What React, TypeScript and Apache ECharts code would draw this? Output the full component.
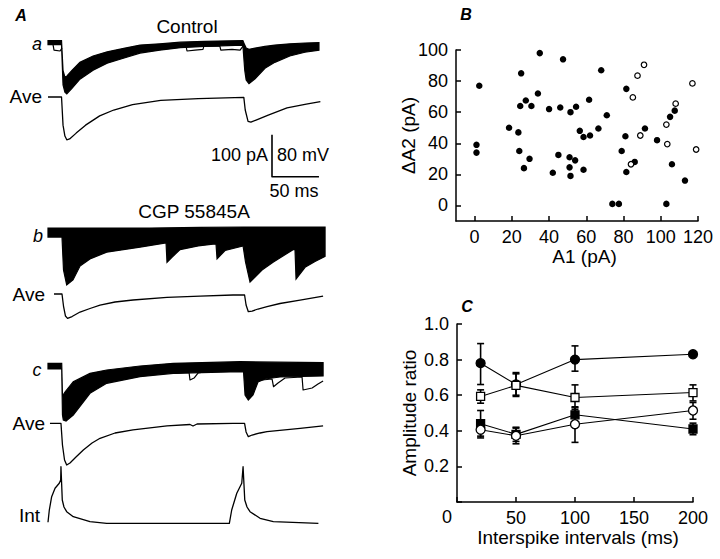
import React, { useEffect, useRef } from "react";
import * as echarts from "echarts";

const FONT = '"Liberation Sans", Arial, Helvetica, sans-serif';

// ---------- Panel A: traces, [time (ms), current (pA) relative to baseline] ----------
const traceAUpper = [[0,4],[14.4,4],[16,-67],[18,-83],[20,-81],[25.5,-67],[34,-48],[48,-33],[63,-23],[82,-14],[98,-7],[119,-4],[141,0],[167,2],[207.5,4],[209.5,-7],[211,-14],[214,-17],[220.5,-14],[231,-10],[241.5,-7],[257.5,-4],[273.5,-2],[288.5,-1]];
const traceALower = [[0,-6],[14.4,-6],[16,-102],[18,-119],[20,-123],[25.5,-110],[34,-88],[48,-67],[63,-50],[82,-37],[98,-26],[119,-19],[141,-13],[167,-10],[207.5,-7],[209.5,-67],[211,-90],[214,-99],[220.5,-87],[231,-62],[241.5,-48],[257.5,-33],[273.5,-24],[288.5,-19]];
const traceAEvents = [
  [[5.3,-5],[6.4,-19],[12.8,-21],[14.9,-14]],
  [[140.6,-9.5],[147,-9.5],[148,-21],[156.5,-19],[165,-17],[166,-9.5],[183,-9.5],[184,-19],[196,-17],[204.5,-19],[207.7,-9.5]],
];
const aveA = [[0,0],[14.4,0],[16,-67],[18,-93],[20,-102],[23,-100],[30,-86],[40,-67],[55,-45],[70,-31],[90,-18],[120,-8],[160,-4],[208.5,-1],[210,-31],[213,-58],[216,-60],[221.5,-55],[234.5,-43],[254.5,-26],[275,-17],[290,-11]];

const traceBUpper = [[0,9.5],[108.6,9.5],[162,11],[208.7,12],[295,12]];
const traceBLower = [[0,-12],[14.9,-12],[16.5,-90.5],[19.9,-126],[26.6,-114],[34.1,-81],[44.7,-64],[62.5,-48],[98,-36],[125.7,-26],[126.7,-72],[132,-60],[140.6,-42],[160,-33],[175.7,-29],[178.9,-29],[180,-64],[188.5,-44],[207.7,-33],[210.3,-71.4],[215.1,-119],[227.9,-90.5],[239.6,-72],[260.9,-42],[263,-42],[264.1,-112],[273.7,-84],[284.3,-70],[295,-58]];
const aveB = [[6.4,0],[14.9,0],[16.5,-28.6],[18.6,-52.4],[20.8,-57.9],[25.6,-53.6],[34.1,-42.9],[44.7,-34.5],[55.4,-26.2],[71.4,-19],[90.5,-14.3],[126.7,-7.9],[161.9,-4.8],[197,-2.4],[209.3,-2.4],[210.9,-26.2],[213.3,-42.1],[217.3,-40.5],[223.6,-35.7],[233.2,-30.2],[247,-22.6],[268.4,-14.3],[292.9,-4.8]];

const traceCUpper = [[0,6.4],[14.6,6.4],[15.4,-71.4],[18.1,-61.9],[26.9,-37.4],[44.7,-17.4],[62.5,-9.5],[98,0],[133.4,6.4],[204.5,10.2],[292.9,7.9]];
const traceCLower = [[0,-7.1],[14.6,-7.1],[15.4,-116.7],[16.3,-128.6],[19.2,-131],[26.9,-116.7],[44.7,-65],[62.5,-41.2],[98,-25.5],[133.4,-17.4],[204.5,-13.6],[208.2,-14.3],[209.8,-69],[213.3,-81],[218.3,-69],[223.6,-38.1],[231.1,-31],[247,-26.2],[292.9,-23.8]];
const traceCEvents = [
  [[133.1,-17.4],[150.2,-15.5],[151.2,-33.3],[155.5,-28.6],[159.7,-16.7],[167.2,-14.3]],
  [[227.9,-33.3],[238.6,-31],[240.1,-49.3],[244.9,-40.5],[252.4,-28.6],[270.5,-26.2],[271.6,-57.1],[281.2,-52.4],[287.5,-42.9],[292.9,-35.7]],
];
const aveC = [[2.1,0],[13.8,0],[15.4,-51.7],[17.6,-87.4],[19.9,-99.3],[23.4,-94.5],[29.8,-80.2],[37.6,-63.6],[46.9,-46.9],[55.4,-35.7],[71.4,-23.1],[90.5,-15.8],[126.7,-6.4],[151.2,-2.9],[154.4,-6.4],[158.7,-1.7],[197,0],[209.3,0],[210.9,-20.7],[213.3,-31.9],[217.3,-27.9],[225.8,-23.1],[233.2,-20],[268.4,-11.9],[292.9,-6.4]];

// intracellular voltage, [time (ms), mV]
const intTrace = [[0,2],[1.4,25.3],[3.9,50.7],[7.5,66.7],[12,76.2],[13.5,82.5],[13.8,107.8],[14.4,107.8],[15.2,44.4],[17,31],[19.9,22.1],[26.9,12.6],[44.7,3],[62.5,0],[193.1,0],[195.6,25.3],[201,57.1],[206.3,76.2],[207.7,107.8],[208.2,107.8],[209.5,44.4],[211.9,31],[215.1,22.1],[225.8,9.5],[239.9,3],[287.9,0]];

const SCALE_PA = 100;
const SCALE_MS = 50;
const PA_PER_MV = 100 / 80; // scale bar: 100 pA | 80 mV

// ---------- Panel B ----------
const filledA1 = [2.5,1,1,18.5,23.5,24,24.5,25,27.5,26.5,30.5,29.5,34,35,40,42,45,46,47.5,51,51,51.5,51.5,54,54.5,56.5,58.5,58.5,61.5,62,66.5,68,71,74,77.5,79,81,81.5,81.5,86,91.5,98,103,105,106,107.5,113];
const filledDA2 = [77,39,34,50,47,35,64,85,67.5,24,64,30,72,98,62,21,32.5,63,94,31,24.5,19,60,29,63.5,48,44,23,68,45,49.5,87,58,1,1,35,44.5,75,21.5,28,49.5,42,1,57,26.5,61,16];
const openA1 = [91,87.5,85,84,89,103,103.5,108,117,119];
const openDA2 = [90.5,83.5,69.5,26.5,45,52,39.5,65.5,78.5,36];
const bTicksX = [0,20,40,60,80,100,120];
const bTicksY = [0,20,40,60,80,100];

// ---------- Panel C ----------
const intervals = [20,50,100,200];
const filledCircle = [0.78,0.66,0.80,0.83];
const filledCircleLo = [0.66,0.60,0.735,0.82];
const filledCircleHi = [0.89,0.72,0.877,0.84];
const openSquare = [0.593,0.655,0.587,0.615];
const openSquareLo = [0.555,0.593,0.52,0.568];
const openSquareHi = [0.63,0.727,0.658,0.658];
const filledSquare = [0.44,0.38,0.49,0.41];
const filledSquareLo = [0.37,0.34,0.45,0.378];
const filledSquareHi = [0.514,0.42,0.535,0.443];
const openCircle = [0.406,0.372,0.437,0.514];
const openCircleLo = [0.36,0.327,0.335,0.465];
const openCircleHi = [0.44,0.415,0.53,0.559];

// layout: baseline offsets of traces on panel A's hidden axis (pA units)
const OFF = { a: 1171, aveA: 1040.5, b: 719, aveB: 571.4, c: 400, aveC: 263.6, int: 25.5 };
const BAR = { t: 238.5, v: 850.7 };

export default function App() {
  const ref = useRef<HTMLDivElement>(null);
  useEffect(() => {
    document.body.style.margin = "0";
    const chart = echarts.init(ref.current!, undefined, { renderer: "svg" });

    const lineA = (d: number[][], off: number, k = 1, w = 1.3): any => ({
      type: "line", xAxisIndex: 0, yAxisIndex: 0, silent: true, symbol: "none", showSymbol: false,
      data: d.map((p) => [p[0], off + p[1] * k]),
      lineStyle: { color: "#000", width: w, join: "round" }, z: 3,
    });
    const band = (up: number[][], lo: number[][], off: number): any => ({
      type: "custom", coordinateSystem: "cartesian2d", xAxisIndex: 0, yAxisIndex: 0, silent: true,
      data: [[up[0][0], off]],
      renderItem: (_p: any, api: any) => {
        const pts = up.map((d) => api.coord([d[0], off + d[1]]))
          .concat(lo.slice().reverse().map((d) => api.coord([d[0], off + d[1]])));
        return { type: "polygon", shape: { points: pts }, style: { fill: "#000", stroke: "#000", lineWidth: 1.2 } };
      }, z: 2,
    });
    const errBars = (v: number[], lo: number[], hi: number[]): any => ({
      type: "custom", coordinateSystem: "cartesian2d", xAxisIndex: 2, yAxisIndex: 2, silent: true,
      data: intervals.map((x, i) => [x, lo[i], hi[i], v[i]]),
      encode: { x: 0, y: [1, 2] },
      renderItem: (_p: any, api: any) => {
        const x = api.value(0);
        const a = api.coord([x, api.value(1)]);
        const b = api.coord([x, api.value(2)]);
        const w = 3.5;
        const st = { stroke: "#000", lineWidth: 1.6 };
        return { type: "group", children: [
          { type: "line", shape: { x1: a[0], y1: a[1], x2: b[0], y2: b[1] }, style: st },
          { type: "line", shape: { x1: a[0] - w, y1: a[1], x2: a[0] + w, y2: a[1] }, style: st },
          { type: "line", shape: { x1: b[0] - w, y1: b[1], x2: b[0] + w, y2: b[1] }, style: st },
        ] };
      }, z: 1,
    });
    const lineC = (v: number[], symbol: string, size: number, filled: boolean): any => ({
      type: "line", xAxisIndex: 2, yAxisIndex: 2, silent: true, symbol, symbolSize: size, showSymbol: true,
      data: intervals.map((x, i) => [x, v[i]]),
      lineStyle: { color: "#000", width: 1.1 },
      itemStyle: { color: filled ? "#000" : "#fff", borderColor: "#000", borderWidth: 1.3, opacity: 1 }, z: 3,
    });

    const axisCommon = (): any => ({
      axisLine: { show: true, onZero: false, lineStyle: { color: "#000", width: 1.5 } },
      splitLine: { show: false },
    });
    const tick = (vals?: number[]): any => ({ show: true, inside: true, length: 5, lineStyle: { color: "#000", width: 1.5 }, ...(vals ? { customValues: vals } : {}) });
    const label = (extra: any = {}): any => ({ color: "#000", fontSize: 18, fontFamily: FONT, ...extra });

    const txt = (text: string, x: number, y: number, o: any = {}): any => ({
      type: "text", x, y, silent: true,
      style: { text, fill: "#000", fontSize: 19, fontFamily: FONT, align: "center", verticalAlign: "middle", ...o },
    });

    const option: any = {
      animation: false,
      backgroundColor: "#fff",
      grid: [
        { left: 48, top: 30, width: 278, height: 504 },
        { left: 456, top: 50, width: 242, height: 171 },
        { left: 457, top: 324, width: 236, height: 178 },
      ],
      xAxis: [
        { gridIndex: 0, type: "value", min: 0, max: 296, show: false },
        { gridIndex: 1, type: "value", min: -10, max: 120, ...axisCommon(), axisTick: tick(bTicksX),
          axisLabel: label({ customValues: bTicksX, margin: 7 }),
          name: "A1 (pA)", nameLocation: "middle", nameGap: 26, nameMoveOverlap: false,
          nameTextStyle: { color: "#000", fontSize: 19, fontFamily: FONT, padding: [0, 0, 0, 15] } },
        { gridIndex: 2, type: "value", min: 0, max: 200, interval: 50, ...axisCommon(), axisTick: tick(),
          axisLabel: label({ margin: 7, formatter: (v: number) => (v === 0 ? "" : String(v)) }),
          name: "Interspike intervals (ms)", nameLocation: "middle", nameGap: 26, nameMoveOverlap: false,
          nameTextStyle: { color: "#000", fontSize: 19, fontFamily: FONT, padding: [0, 0, 0, 6] } },
      ],
      yAxis: [
        { gridIndex: 0, type: "value", min: 0, max: 1200, show: false },
        { gridIndex: 1, type: "value", min: -10, max: 100, ...axisCommon(), axisTick: tick(bTicksY),
          axisLabel: label({ customValues: bTicksY, margin: 8 }),
          name: "ΔA2 (pA)", nameLocation: "middle", nameRotate: 90, nameGap: 38, nameMoveOverlap: false,
          nameTextStyle: { color: "#000", fontSize: 19, fontFamily: FONT } },
        { gridIndex: 2, type: "value", min: 0, max: 1, interval: 0.2, ...axisCommon(), axisTick: tick(),
          axisLabel: label({ margin: 8, formatter: (v: number) => (v === 0 ? "" : v.toFixed(1)) }),
          name: "Amplitude ratio", nameLocation: "middle", nameRotate: 90, nameGap: 38, nameMoveOverlap: false,
          nameTextStyle: { color: "#000", fontSize: 19, fontFamily: FONT } },
      ],
      series: [
        band(traceAUpper, traceALower, OFF.a),
        ...traceAEvents.map((s) => lineA(s, OFF.a, 1, 1.2)),
        lineA(aveA, OFF.aveA),
        band(traceBUpper, traceBLower, OFF.b),
        lineA(aveB, OFF.aveB),
        band(traceCUpper, traceCLower, OFF.c),
        ...traceCEvents.map((s) => lineA(s, OFF.c, 1, 1.2)),
        lineA(aveC, OFF.aveC),
        lineA(intTrace, OFF.int, PA_PER_MV),
        lineA([[BAR.t, SCALE_PA], [BAR.t, 0], [BAR.t + SCALE_MS, 0]], BAR.v, 1, 1.6),
        {
          type: "scatter", xAxisIndex: 1, yAxisIndex: 1, silent: true, symbol: "circle", symbolSize: 6.5,
          data: filledA1.map((x, i) => [x, filledDA2[i]]), itemStyle: { color: "#000", opacity: 1 },
        },
        {
          type: "scatter", xAxisIndex: 1, yAxisIndex: 1, silent: true, symbol: "circle", symbolSize: 5.5,
          data: openA1.map((x, i) => [x, openDA2[i]]), itemStyle: { color: "#fff", borderColor: "#000", borderWidth: 1.2, opacity: 1 },
        },
        errBars(filledCircle, filledCircleLo, filledCircleHi),
        errBars(filledSquare, filledSquareLo, filledSquareHi),
        errBars(openSquare, openSquareLo, openSquareHi),
        errBars(openCircle, openCircleLo, openCircleHi),
        lineC(filledCircle, "circle", 9, true),
        lineC(filledSquare, "rect", 8, true),
        lineC(openSquare, "rect", 8, false),
        lineC(openCircle, "circle", 9, false),
      ],
      graphic: [
        txt("A", 21, 15, { fontStyle: "italic", fontWeight: "bold", fontSize: 16 }),
        txt("B", 466, 14, { fontStyle: "italic", fontWeight: "bold", fontSize: 16 }),
        txt("C", 467, 306, { fontStyle: "italic", fontWeight: "bold", fontSize: 16 }),
        txt("Control", 187, 26),
        txt("CGP 55845A", 194, 211),
        txt("a", 37, 44, { fontStyle: "italic", fontSize: 18 }),
        txt("b", 38, 236, { fontStyle: "italic", fontSize: 18 }),
        txt("c", 37, 370, { fontStyle: "italic", fontSize: 18 }),
        txt("Ave", 42, 96, { align: "right" }),
        txt("Ave", 45, 294, { align: "right" }),
        txt("Ave", 45, 423, { align: "right" }),
        txt("Int", 40, 515, { align: "right" }),
        txt("100 pA", 268, 155, { align: "right", fontSize: 18 }),
        txt("80 mV", 277, 155, { align: "left", fontSize: 18 }),
        txt("50 ms", 294, 191, { fontSize: 18 }),
        txt("0", 447, 517, { fontSize: 18 }),
      ],
    };
    chart.setOption(option);
    return () => chart.dispose();
  }, []);
  return <div ref={ref} style={{ width: 720, height: 559 }} />;
}
